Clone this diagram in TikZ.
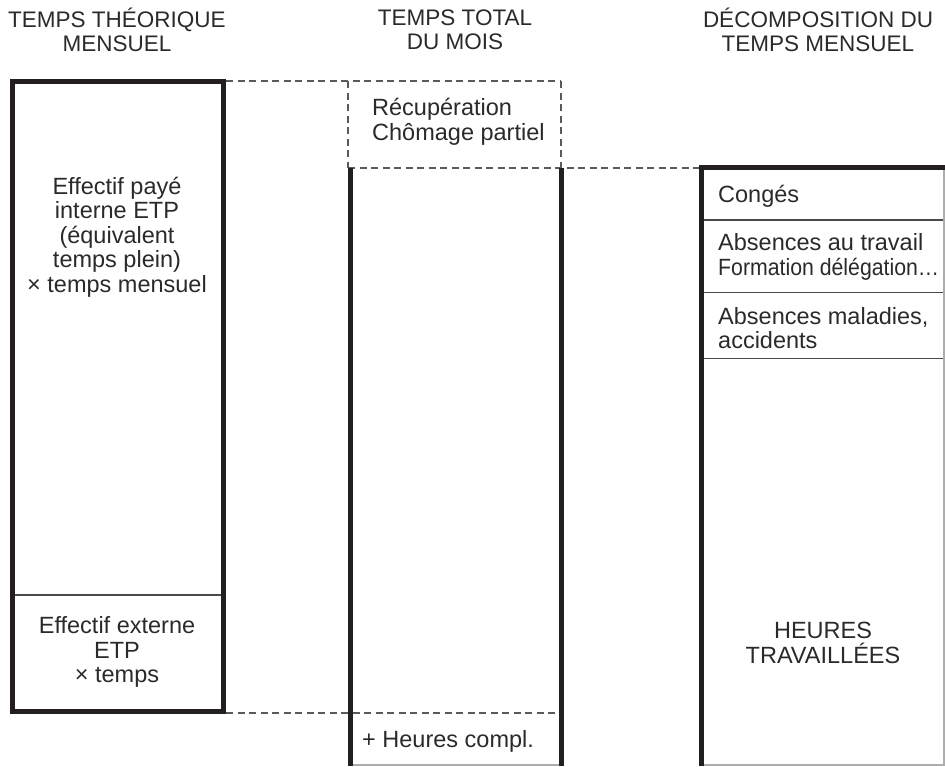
\documentclass[tikz,border=0pt]{standalone}
\usepackage{fontspec}
\setmainfont{Liberation Sans}
\definecolor{ink}{HTML}{231F20}
\definecolor{txt}{HTML}{2A2A2A}
\definecolor{dash}{HTML}{5A5A5A}
\definecolor{thin}{HTML}{4A4A4A}
\definecolor{edge}{HTML}{ADADAD}
\tikzset{
  thickline/.style={draw=ink, line width=5pt},
  thinline/.style={draw=thin, line width=1.3pt},
  edgeline/.style={draw=edge, line width=1.6pt},
  dashline/.style={draw=dash, line width=1.5pt, dash pattern=on 7pt off 4.5pt},
  head/.style={inner sep=0pt, align=center, text=txt, font=\fontsize{22.5}{24.5}\selectfont},
  body/.style={inner sep=0pt, align=center, text=txt, font=\fontsize{23.5}{24.5}\selectfont},
  bodyl/.style={body, align=left, anchor=west},
}
\begin{document}
\begin{tikzpicture}[x=1pt,y=-1pt]
\useasboundingbox (0,0) rectangle (945,766);
% coordinates
\coordinate (LTL) at (12.5,81.5);
\coordinate (LBR) at (223.5,711);
\coordinate (LdivL) at (15,595);
\coordinate (LdivR) at (221,595);
\coordinate (LTR) at (226,81);
\coordinate (MTL) at (348,81);
\coordinate (MTR) at (561,81);
\coordinate (MML) at (348,168);
\coordinate (MMR) at (561,168);
\coordinate (RTL) at (701.5,168);
\coordinate (MLt) at (350,168);
\coordinate (MLb) at (350,766);
\coordinate (MRt) at (561.5,168);
\coordinate (MRb) at (561.5,766);
\coordinate (LBd) at (226,713);
\coordinate (MBd) at (561.5,713);
\coordinate (RLt) at (701.5,167.5);
\coordinate (RLb) at (701.5,766);
\coordinate (RTR) at (945,167.5);
\coordinate (RRt) at (944,170);
\coordinate (RRb) at (944,766);

% left box
\draw[thickline] (LTL) rectangle (LBR);
\draw[thinline] (LdivL) -- (LdivR);

% dashed links
\draw[dashline] (LTR) -- (MTR);
\draw[dashline] (MTL) -- (MML);
\draw[dashline] (MTR) -- (MMR);
\draw[dashline] (MML) -- (RTL);
\draw[dashline] (LBd) -- (MBd);

% middle column
\draw[edgeline] (350,765) -- (561.5,765);
\draw[thickline] (MLt) -- (MLb);
\draw[thickline] (MRt) -- (MRb);

% right column
\draw[edgeline] (RRt) -- (RRb);
\draw[edgeline] (701.5,765) -- (944,765);
\foreach \yy in {220,292.5,358.5}{\draw[thinline] (704,\yy) -- (943,\yy);}
\draw[thickline] (RLb) -- (RLt) -- (RTR);

% headers
\node[head] (h1) at (117,30) {TEMPS THÉORIQUE\\MENSUEL};
\node[head] (h2) at (455,30) {TEMPS TOTAL\\DU MOIS};
\node[head] (h3) at (818,30) {DÉCOMPOSITION DU\\TEMPS MENSUEL};

% left texts
\node[body] (t1) at (117,237) {Effectif payé\\interne ETP\\(équivalent\\temps plein)\\× temps mensuel};
\node[body] (t2) at (117,652) {Effectif externe\\ETP\\× temps};

% middle texts
\node[bodyl] (t3) at (372,122) {Récupération\\Chômage partiel};
\node[bodyl] (t4) at (362,741) {+ Heures compl.};

% right texts
\node[bodyl] (t5) at (718,196) {Congés};
\node[bodyl] (t6) at (718,257) {Absences au travail\\\scalebox{0.905}[1]{Formation délégation…}};
\node[bodyl] (t7) at (718,328) {Absences maladies,\\accidents};
\node[body] (t8) at (823,643) {HEURES\\TRAVAILLÉES};
\end{tikzpicture}
\end{document}
